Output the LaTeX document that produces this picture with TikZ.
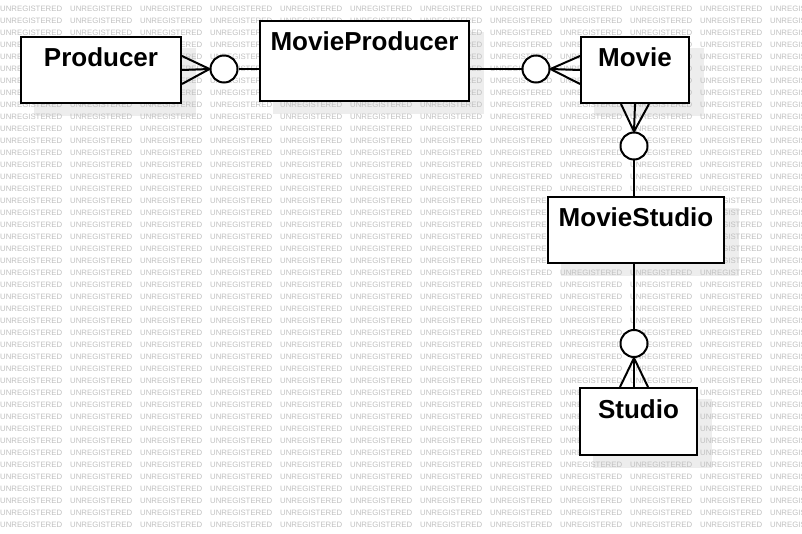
\documentclass[tikz,border=0pt]{standalone}
\usepackage{fontspec}
\setmainfont{Liberation Sans}
\usetikzlibrary{positioning}
\pgfdeclarelayer{shade}
\pgfdeclarelayer{mark}
\pgfsetlayers{shade,mark,main}
\tikzset{
  ent/.style  ={draw, fill=white, line width=2pt, inner sep=0pt, anchor=north west,
                text height=30pt, font=\fontsize{26}{30}\selectfont\bfseries},
  opt/.style  ={draw, fill=white, line width=2pt, circle, inner sep=0pt, minimum size=27pt},
  link/.style ={line width=2pt},
  shd/.style  ={fill=black!7},
  wmark/.style={anchor=west, inner sep=0pt, text=black!25, font=\fontsize{7.8}{8}\selectfont}
}
\begin{document}
\begin{tikzpicture}[x=1pt, y=-1pt]
\useasboundingbox (0,0) rectangle (802,534);
\node[ent, minimum width=160pt, text depth=36pt] (prod)    at (20,36)   {Producer};
\node[ent, minimum width=209pt, text depth=50pt] (mprod)   at (259,20)  {MovieProducer};
\node[ent, minimum width=108pt, text depth=36pt] (movie)   at (580,36)  {Movie};
\node[ent, minimum width=176pt, text depth=36pt] (mstudio) at (547,196) {MovieStudio};
\node[ent, minimum width=117pt, text depth=37pt] (studio)  at (579,387) {Studio};
\node[opt] (c1) at (224,69) {};
\node[opt] (c2) at (536,69) {};
\node[opt] (c3) at (634,146) {};
\node[opt] (c4) at (634,343.5) {};
\coordinate (sfoot) at (c4.south |- studio.north);
\begin{pgfonlayer}{shade}
  \foreach \n in {prod,mprod,movie,mstudio,studio}
    \fill[shd] ([xshift=14pt,yshift=-12pt]\n.south west) rectangle ([xshift=14pt,yshift=-12pt]\n.north east);
\end{pgfonlayer}
\begin{pgfonlayer}{mark}
  \foreach \r in {0,...,43}
    \foreach \c in {0,...,11}
      \node[wmark] at (70*\c, 8.5+12*\r) {UNREGISTERED};
\end{pgfonlayer}
\foreach \s in {-14,0,14} {
  \draw[link] ([yshift=\s pt]prod.east) -- (c1.west);
  \draw[link] ([yshift=\s pt]movie.west) -- (c2.east);
  \draw[link] ([xshift=\s pt]movie.south) -- (c3.north);
  \draw[link] ([xshift=\s pt]sfoot) -- (c4.south);
}
\draw[link] (c1.east) -- (c1.east -| mprod.west);
\draw[link] (c2.west -| mprod.east) -- (c2.west);
\draw[link] (c3.south) -- (c3.south |- mstudio.north);
\draw[link] (c4.north |- mstudio.south) -- (c4.north);
\end{tikzpicture}
\end{document}
